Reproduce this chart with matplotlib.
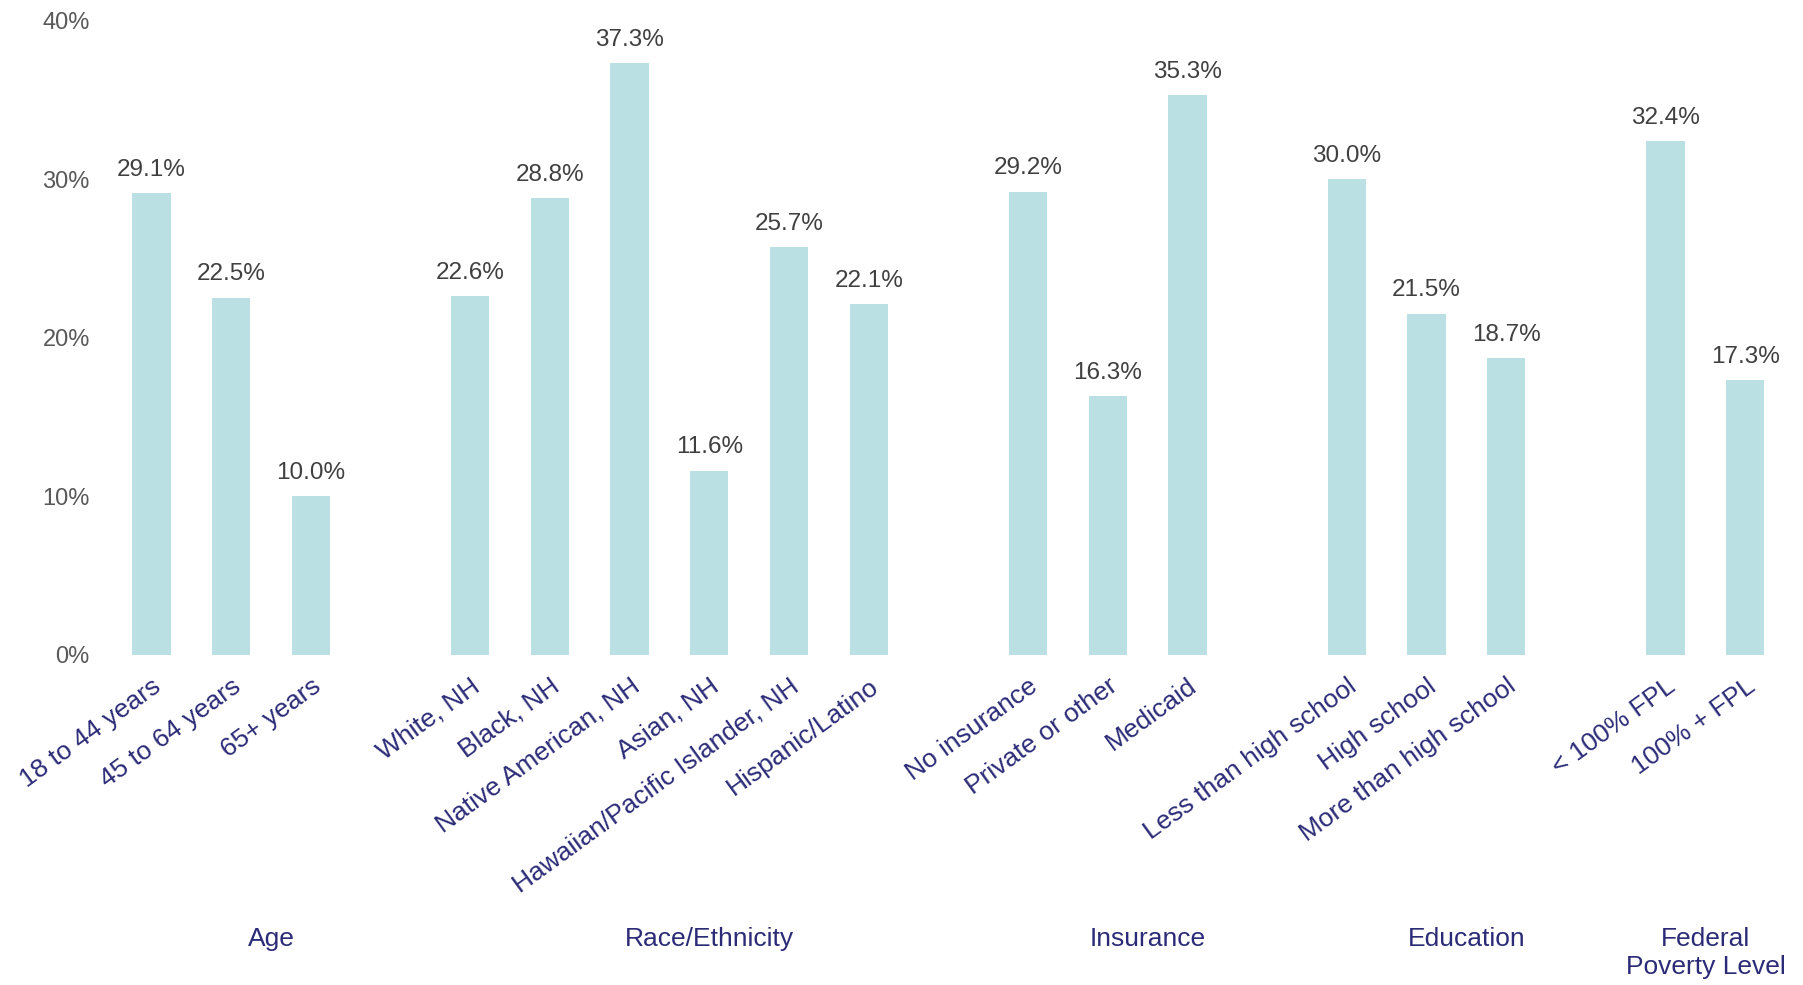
import numpy as np
import matplotlib.pyplot as plt
from matplotlib.ticker import FuncFormatter

plt.rcParams['font.family'] = ['Liberation Sans', 'DejaVu Sans']

# data, one list per group
groups = ['Age', 'Race/Ethnicity', 'Insurance', 'Education', 'Federal\nPoverty Level']
age_labels = ['18 to 44 years', '45 to 64 years', '65+ years']
age_values = [29.1, 22.5, 10.0]
race_labels = ['White, NH', 'Black, NH', 'Native American, NH', 'Asian, NH',
               'Hawaiian/Pacific Islander, NH', 'Hispanic/Latino']
race_values = [22.6, 28.8, 37.3, 11.6, 25.7, 22.1]
ins_labels = ['No insurance', 'Private or other', 'Medicaid']
ins_values = [29.2, 16.3, 35.3]
edu_labels = ['Less than high school', 'High school', 'More than high school']
edu_values = [30.0, 21.5, 18.7]
fpl_labels = ['< 100% FPL', '100% + FPL']
fpl_values = [32.4, 17.3]

all_labels = [age_labels, race_labels, ins_labels, edu_labels, fpl_labels]
all_values = [age_values, race_values, ins_values, edu_values, fpl_values]

bar_color = '#bae0e3'
navy = '#2b2b78'
grey = '#595959'

fig = plt.figure(figsize=(18.03, 9.85), dpi=100)
ax = fig.add_axes([0.0575, 0.3355, 0.937, 0.6435])

xs, labs, vals, centers = [], [], [], []
pos = 0
for g, (lab, val) in enumerate(zip(all_labels, all_values)):
    n = len(lab)
    x = np.arange(pos, pos + n)
    xs.extend(x); labs.extend(lab); vals.extend(val)
    # group label position (last group sits a bit left, it runs into the edge)
    centers.append(pos + n / 2 if g < len(groups) - 1 else pos + (n - 1) / 2)
    pos += n + 1

bars = ax.bar(xs, vals, width=0.48, color=bar_color, edgecolor='none')
for b, v in zip(bars, vals):
    ax.annotate(f'{v:.1f}%', (b.get_x() + b.get_width() / 2, v),
                xytext=(0, 9), textcoords='offset points',
                ha='center', va='bottom', fontsize=17.5, color='#404040')

ax.set_ylim(0, 40)
ax.set_xlim(-0.6, xs[-1] + 0.6)
ax.set_yticks([0, 10, 20, 30, 40])
ax.yaxis.set_major_formatter(FuncFormatter(lambda v, p: f'{v:.0f}%'))
ax.tick_params(axis='y', length=0, labelsize=17, labelcolor=grey, pad=10)
ax.set_xticks(xs)
ax.set_xticklabels(labs, rotation=36, ha='right', va='top',
                   rotation_mode='anchor', fontsize=19, color=navy)
ax.tick_params(axis='x', length=0, pad=14)
for s in ax.spines.values():
    s.set_visible(False)

for name, c in zip(groups, centers):
    xf = ax.transData.transform((c, 0))[0]
    xf = fig.transFigure.inverted().transform((xf, 0))[0]
    fig.text(xf, 0.059, name, ha='center', va='top', fontsize=19,
             color=navy, linespacing=1.2)

fig.savefig('out.png', dpi=100)
